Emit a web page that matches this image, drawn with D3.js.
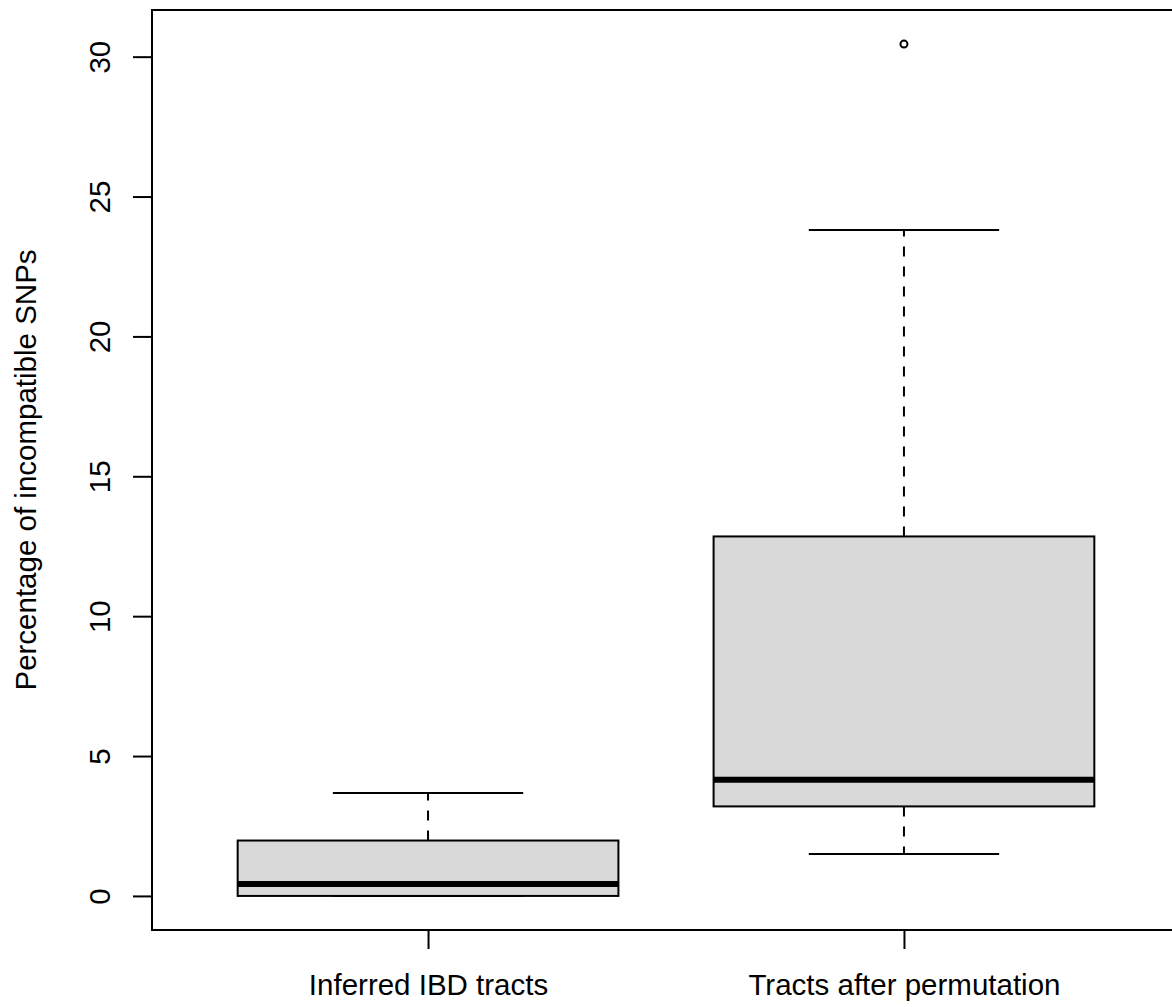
<!DOCTYPE html>
<html>
<head>
<meta charset="utf-8">
<script src="https://cdn.jsdelivr.net/npm/d3@7"></script>
<style>
  html, body { margin: 0; padding: 0; background: #fff; }
  svg { display: block; font-family: "Liberation Sans", Arial, Helvetica, sans-serif; }
</style>
</head>
<body>
<div id="chart"></div>
<script>
const categories = ['Inferred IBD tracts', 'Tracts after permutation'];
const lowerWhisker = [0, 1.5];
const q1 = [0, 3.2];
const median = [0.43, 4.15];
const q3 = [1.98, 12.85];
const upperWhisker = [3.68, 23.8];
const outliers = [[], [30.45]];
const yTicks = [0, 5, 10, 15, 20, 25, 30];

const width = 1172;
const height = 1007;
const fontSize = 29.5;

// plot frame in pixels (R style: 4% padding around data range)
const plotLeft = 152;
const plotTop = 10;
const plotBottom = 930;
const plotRight = 1180;

const x = d3.scaleLinear().domain([0.42, 2.58]).range([plotLeft, plotRight]);
const y = d3.scaleLinear().domain([-1.218, 31.668]).range([plotBottom, plotTop]);

const boxes = categories.map(function(c, i) {
  return {
    name: c,
    pos: i + 1,
    lo: lowerWhisker[i],
    q1: q1[i],
    med: median[i],
    q3: q3[i],
    hi: upperWhisker[i],
    out: outliers[i]
  };
});

const svg = d3
  .select('#chart')
  .append('svg')
  .attr('width', width)
  .attr('height', height);

const boxW = 0.4; // half width in x units
const capW = 0.2;

const g = svg.selectAll('g.box').data(boxes).enter().append('g').attr('class', 'box');

// whiskers (dashed)
g.append('line')
  .attr('x1', d => x(d.pos)).attr('x2', d => x(d.pos))
  .attr('y1', d => y(d.q3)).attr('y2', d => y(d.hi))
  .attr('stroke', '#000').attr('stroke-width', 2).attr('stroke-dasharray', '10,10');
g.append('line')
  .attr('x1', d => x(d.pos)).attr('x2', d => x(d.pos))
  .attr('y1', d => y(d.q1)).attr('y2', d => y(d.lo))
  .attr('stroke', '#000').attr('stroke-width', 2).attr('stroke-dasharray', '10,10');

// caps
g.selectAll('line.cap')
  .data(d => [d.lo, d.hi].map(v => ({ pos: d.pos, v: v })))
  .enter()
  .append('line')
  .attr('class', 'cap')
  .attr('x1', d => x(d.pos - capW)).attr('x2', d => x(d.pos + capW))
  .attr('y1', d => y(d.v)).attr('y2', d => y(d.v))
  .attr('stroke', '#000').attr('stroke-width', 2);

// box
g.append('rect')
  .attr('x', d => x(d.pos - boxW))
  .attr('width', d => x(d.pos + boxW) - x(d.pos - boxW))
  .attr('y', d => y(d.q3))
  .attr('height', d => y(d.q1) - y(d.q3))
  .attr('fill', '#d9d9d9')
  .attr('stroke', '#000')
  .attr('stroke-width', 2);

// median
g.append('line')
  .attr('x1', d => x(d.pos - boxW)).attr('x2', d => x(d.pos + boxW))
  .attr('y1', d => y(d.med)).attr('y2', d => y(d.med))
  .attr('stroke', '#000').attr('stroke-width', 6);

// outliers
g.selectAll('circle')
  .data(d => d.out.map(v => ({ pos: d.pos, v: v })))
  .enter()
  .append('circle')
  .attr('cx', d => x(d.pos))
  .attr('cy', d => y(d.v))
  .attr('r', 3.5)
  .attr('fill', 'none')
  .attr('stroke', '#000')
  .attr('stroke-width', 2);

// frame
svg.append('rect')
  .attr('x', plotLeft).attr('y', plotTop)
  .attr('width', plotRight - plotLeft).attr('height', plotBottom - plotTop)
  .attr('fill', 'none').attr('stroke', '#000').attr('stroke-width', 2);

// y axis
const yAxis = svg.append('g')
  .attr('transform', `translate(${plotLeft},0)`)
  .call(d3.axisLeft(y).tickValues(yTicks).tickSize(19).tickFormat(d3.format('d')));
yAxis.select('.domain').remove();
yAxis.selectAll('.tick line').attr('stroke', '#000').attr('stroke-width', 2);
yAxis.selectAll('.tick text')
  .attr('x', null).attr('dy', null)
  .attr('transform', `translate(${110 - plotLeft},0) rotate(-90)`)
  .attr('text-anchor', 'middle')
  .attr('fill', '#000')
  .style('font-size', fontSize + 'px')
  .style('font-family', '"Liberation Sans", Arial, sans-serif');

// x axis
const xAxis = svg.append('g')
  .attr('transform', `translate(0,${plotBottom})`)
  .call(d3.axisBottom(x).tickValues([1, 2]).tickSize(19).tickFormat(d => categories[d - 1]));
xAxis.select('.domain').remove();
xAxis.selectAll('.tick line').attr('stroke', '#000').attr('stroke-width', 2);
xAxis.selectAll('.tick text')
  .attr('y', 995 - plotBottom).attr('dy', null)
  .attr('fill', '#000')
  .style('font-size', fontSize + 'px')
  .style('font-family', '"Liberation Sans", Arial, sans-serif');

// y label
svg.append('text')
  .attr('transform', `translate(36,${(plotTop + plotBottom) / 2}) rotate(-90)`)
  .attr('text-anchor', 'middle')
  .attr('fill', '#000')
  .style('font-size', fontSize + 'px')
  .text('Percentage of incompatible SNPs');
</script>
</body>
</html>
